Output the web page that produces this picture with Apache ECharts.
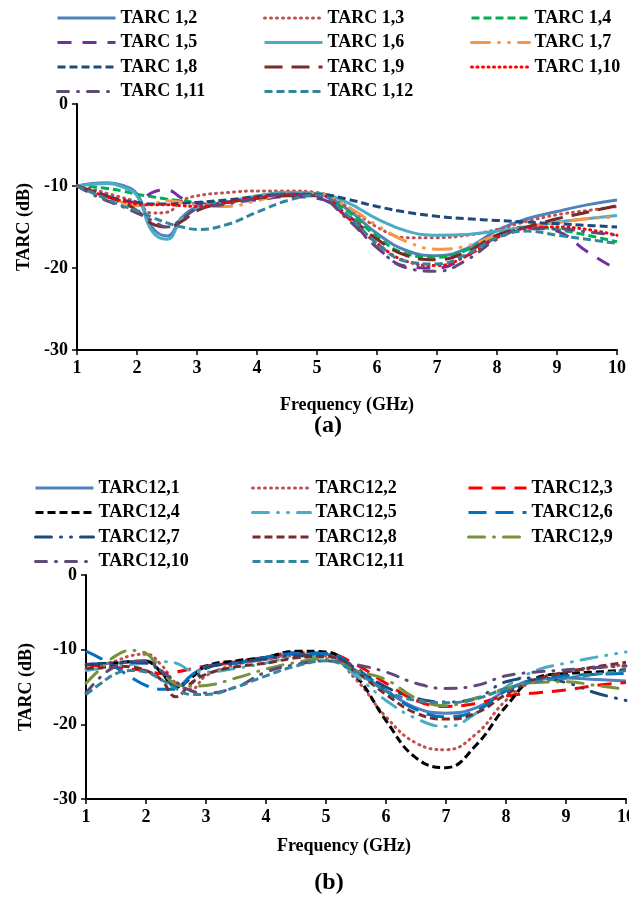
<!DOCTYPE html>
<html>
<head>
<meta charset="utf-8">
<script src="https://cdn.jsdelivr.net/npm/echarts@6/dist/echarts.min.js"></script>
<style>
html,body{margin:0;padding:0;background:#fff;}
#c{width:629px;height:898px;}
</style>
</head>
<body>
<div id="c"></div>
<script>
// ---- shared frequency samples (GHz) ----
const freqA = [1,1.25,1.5,1.75,2,2.25,2.5,2.75,3,3.5,4,4.5,5,5.5,6,6.5,7,7.5,8,8.5,9,9.5,10];
const freqB = [1,1.25,1.5,1.75,2,2.25,2.5,2.75,3,3.5,4,4.5,5,5.5,6,6.5,7,7.5,8,8.5,9,9.5,10];
const xTicks = [1,2,3,4,5,6,7,8,9,10];
const yTicks = [0,-10,-20,-30];

// ---- chart (a) names and values (dB) ----
const namesA = ['TARC 1,2','TARC 1,3','TARC 1,4','TARC 1,5','TARC 1,6','TARC 1,7','TARC 1,8','TARC 1,9','TARC 1,10','TARC 1,11','TARC 1,12'];
const tarc1_2  = [-10,-9.7,-9.6,-9.9,-11,-15,-16.1,-13.8,-12.6,-12,-11.3,-10.8,-11,-12.8,-15.8,-17.9,-18.5,-17.6,-15.4,-14,-13.1,-12.3,-11.7];
const tarc1_3  = [-10,-10.4,-10.9,-11.4,-12,-13.3,-13.2,-11.8,-11.2,-10.8,-10.6,-10.6,-10.8,-12.5,-15,-16.3,-16.3,-16,-15.3,-14.3,-13.5,-13,-12.5];
const tarc1_4  = [-10,-10.1,-10.3,-10.6,-11,-11.3,-11.6,-11.8,-12,-11.9,-11.5,-11.1,-11,-13,-16.2,-18.3,-18.7,-17.8,-16,-15,-15.3,-16,-16.8];
const tarc1_5  = [-10,-10.6,-11.2,-11.8,-12,-10.8,-10.5,-11.5,-12.2,-12,-11.7,-11.3,-11.5,-13.8,-17.5,-19.8,-20,-18.5,-16.2,-15,-15.5,-18,-20.2];
const tarc1_6  = [-10,-9.8,-9.7,-10.1,-11.2,-15.5,-16.5,-14,-12.8,-12,-11.2,-10.8,-10.9,-12,-14,-15.5,-16,-15.9,-15.5,-15,-14.4,-14,-13.6];
const tarc1_7  = [-10,-10.8,-11.5,-12,-12.4,-12.2,-11.8,-12,-12.3,-12.5,-11.8,-11,-11,-12.5,-14.8,-16.8,-17.7,-17.3,-16,-15,-14.5,-14,-13.8];
const tarc1_8  = [-10,-10.6,-11.2,-11.7,-12,-12.2,-12.2,-12.1,-12,-11.7,-11.3,-11,-11,-11.6,-12.5,-13.2,-13.7,-14,-14.2,-14.4,-14.6,-14.8,-15];
const tarc1_9  = [-10,-10.7,-11.3,-12,-13,-14.6,-15,-14.3,-13,-12,-11.5,-11.2,-11.2,-13.5,-16.5,-18.5,-19,-18,-16,-15,-14,-13.2,-12.4];
const tarc1_10 = [-10,-10.7,-11.3,-11.8,-12.2,-12.3,-12.3,-12.4,-12.5,-12,-11.4,-11,-11,-13.8,-17,-19.2,-19.7,-18.5,-16.3,-15.2,-15,-15.3,-16];
const tarc1_11 = [-10,-11,-11.8,-12.5,-13.3,-14.2,-15,-14,-12.8,-12.2,-11.5,-11,-11.3,-14,-17.5,-20,-20.4,-19,-16.5,-15.2,-15.2,-15.6,-16];
const tarc1_12 = [-10,-10.8,-11.6,-12.4,-13,-13.8,-14.5,-15,-15.3,-14.7,-13.2,-11.8,-11.1,-13.5,-17,-19.2,-19.5,-18.3,-16.3,-15.5,-16,-16.5,-17];

// ---- chart (b) names and values (dB) ----
const namesB = ['TARC12,1','TARC12,2','TARC12,3','TARC12,4','TARC12,5','TARC12,6','TARC12,7','TARC12,8','TARC12,9','TARC12,10','TARC12,11'];
const tarc12_1  = [-12,-11.9,-11.8,-11.6,-11.5,-13,-15,-13.5,-12.3,-11.8,-11.3,-10.6,-10.6,-12.8,-15.5,-17.8,-18.5,-17.8,-15.5,-14,-13.8,-14,-14.2];
const tarc12_2  = [-12.5,-12,-11.5,-10.8,-10.6,-12,-14.5,-15.3,-13.5,-12,-11.3,-10.8,-10.8,-14,-19,-22.5,-23.4,-21.3,-16.8,-14,-13,-12.5,-12];
const tarc12_3  = [-12,-12.2,-12.4,-12.6,-12.8,-13.2,-13,-12.6,-12.2,-11.6,-11,-10.4,-10.5,-12,-14.5,-16.8,-17.6,-17.2,-16.2,-15.8,-15.4,-14.8,-14.4];
const tarc12_4  = [-12,-11.9,-11.8,-11.6,-11.6,-13,-15,-13.8,-12.2,-11.5,-11,-10.2,-10.3,-13.5,-19.5,-24.5,-25.8,-22.8,-17.6,-13.8,-13.2,-13,-12.7];
const tarc12_5  = [-12.8,-12.5,-12.2,-12,-11.8,-11.6,-11.8,-12.8,-13,-12.5,-11.8,-11,-11,-13.5,-16.8,-19.2,-20.3,-18.5,-15,-12.8,-11.8,-11,-10.3];
const tarc12_6  = [-10.2,-11.2,-12.4,-13.7,-14.8,-15.3,-15.3,-13.5,-12.3,-11.8,-11,-10.5,-10.5,-12.5,-15.5,-18,-19,-18.2,-15.5,-14,-13.5,-13.3,-13.2];
const tarc12_7  = [-12,-11.9,-11.8,-11.7,-11.8,-13,-14.8,-14.5,-12.5,-11.8,-11.2,-10.8,-10.8,-12.5,-15,-16.5,-17,-16.5,-14.3,-13.8,-14.4,-15.8,-16.8];
const tarc12_8  = [-12.5,-12.4,-12.2,-12.3,-12.8,-14,-16.3,-14.5,-13.3,-12.3,-11.8,-11.1,-10.9,-13,-16,-18.5,-19.3,-18.5,-16,-14,-13,-12.3,-11.7];
const tarc12_9  = [-14.5,-12.5,-10.8,-10.1,-10.5,-12.8,-14.6,-14.9,-14.8,-13.8,-12.6,-11.7,-11.2,-12.8,-14,-16.5,-17.5,-16.5,-15.2,-14.4,-14.3,-14.8,-15.3];
const tarc12_10 = [-15.8,-13.6,-12.2,-11.6,-11.5,-12.8,-14.3,-15.5,-15.8,-15,-13,-12,-11.5,-12,-13,-14.5,-15.2,-14.8,-13.5,-13,-12.7,-12.4,-12.2];
const tarc12_11 = [-16,-14.5,-13.2,-12.8,-13,-14,-15.2,-16,-16,-15,-13.5,-12.2,-11.5,-13,-15.5,-16.8,-17.1,-16.6,-15.2,-14.3,-13.8,-13.3,-12.8];

const valuesA = [tarc1_2,tarc1_3,tarc1_4,tarc1_5,tarc1_6,tarc1_7,tarc1_8,tarc1_9,tarc1_10,tarc1_11,tarc1_12];
const valuesB = [tarc12_1,tarc12_2,tarc12_3,tarc12_4,tarc12_5,tarc12_6,tarc12_7,tarc12_8,tarc12_9,tarc12_10,tarc12_11];

// ---- styles (kept separate from data) ----
const stylesA = [
  {color:'#4F81BD', type:'solid'},
  {color:'#C0504D', type:[1,5], cap:'round'},
  {color:'#00B050', type:[8,4]},
  {color:'#7030A0', type:[14,11]},
  {color:'#4BACC6', type:'solid'},
  {color:'#F79646', type:[18,9,1,9,1,9], cap:'round'},
  {color:'#1F497D', type:[8,4]},
  {color:'#772C2A', type:[18,9]},
  {color:'#FF0000', type:[1,4.5], cap:'round'},
  {color:'#5F497A', type:[11,9,1,9], cap:'round'},
  {color:'#31859C', type:[8,4]}
];
const stylesB = [
  {color:'#4F81BD', type:'solid'},
  {color:'#C0504D', type:[1,5], cap:'round'},
  {color:'#FF0000', type:[14,9]},
  {color:'#000000', type:[8,4]},
  {color:'#4BACC6', type:[16,9,1,9,1,9], cap:'round'},
  {color:'#0070C0', type:[18,9]},
  {color:'#1F497D', type:[16,9,1,9,1,9], cap:'round'},
  {color:'#772C2A', type:[8,4]},
  {color:'#76923C', type:[16,9,1,9], cap:'round'},
  {color:'#5F497A', type:[11,9,1,9], cap:'round'},
  {color:'#31859C', type:[8,4]}
];

const FONT = 'Liberation Serif';

function makeSeries(names, values, freqs, styles, idx){
  return names.map((n,i)=>({
    name:n, type:'line', xAxisIndex:idx, yAxisIndex:idx,
    data: freqs.map((f,k)=>[f, values[i][k]]),
    smooth:0.45, symbol:'circle', symbolSize:0, showSymbol:false, animation:false,
    lineStyle:{color:styles[i].color, width:3, type:styles[i].type, cap:styles[i].cap||'butt'},
    itemStyle:{color:styles[i].color}
  }));
}

function legendCol(names, left, top){
  return {
    orient:'vertical', left:left, top:top, padding:0, itemWidth:58, itemHeight:14, itemGap:6.5,
    data:names, selectedMode:false,
    lineStyle:{width:3},
    itemStyle:{opacity:0, borderWidth:0},
    textStyle:{fontFamily:FONT, fontWeight:'bold', fontSize:18, color:'#000', lineHeight:18}
  };
}

function xAx(idx, nameGap, shift){
  return {
    type:'value', gridIndex:idx, min:1, max:10, interval:1,
    name:'Frequency (GHz)', nameLocation:'middle', nameGap:nameGap,
    nameTextStyle:{fontFamily:FONT, fontWeight:'bold', fontSize:18, color:'#000', padding:[0, shift, 0, 0]},
    axisLine:{show:true, onZero:false, lineStyle:{color:'#000', width:2}},
    axisTick:{show:true, length:5, lineStyle:{color:'#000', width:1.5}},
    axisLabel:{fontFamily:FONT, fontWeight:'bold', fontSize:18, color:'#000', margin:9,
      formatter:v=> xTicks.includes(v) ? String(v) : ''},
    splitLine:{show:false}
  };
}
function yAx(idx, nameGap){
  return {
    type:'value', gridIndex:idx, min:-30, max:0, interval:10,
    name:'TARC (dB)', nameLocation:'middle', nameGap:nameGap, nameRotate:90,
    nameTextStyle:{fontFamily:FONT, fontWeight:'bold', fontSize:18, color:'#000'},
    axisLine:{show:true, onZero:false, lineStyle:{color:'#000', width:2}},
    axisTick:{show:true, length:5, lineStyle:{color:'#000', width:1.5}},
    axisLabel:{fontFamily:FONT, fontWeight:'bold', fontSize:18, color:'#000', margin:9,
      formatter:v=> yTicks.includes(v) ? String(v) : ''},
    splitLine:{show:false}
  };
}

const chart = echarts.init(document.getElementById('c'), null, {renderer:'canvas'});
chart.setOption({
  backgroundColor:'#fff',
  animation:false,
  grid:[
    {left:77, top:104, width:540, height:246, outerBoundsMode:'none', containLabel:false},
    {left:86, top:575, width:540, height:224, outerBoundsMode:'none', containLabel:false}
  ],
  legend:[
    legendCol([namesA[0],namesA[3],namesA[6],namesA[9]], 56, 9),
    legendCol([namesA[1],namesA[4],namesA[7],namesA[10]], 263, 9),
    legendCol([namesA[2],namesA[5],namesA[8]], 470, 9),
    legendCol([namesB[0],namesB[3],namesB[6],namesB[9]], 34, 479),
    legendCol([namesB[1],namesB[4],namesB[7],namesB[10]], 251, 479),
    legendCol([namesB[2],namesB[5],namesB[8]], 467, 479)
  ],
  xAxis:[xAx(0, 46, 0), xAx(1, 38, 24)],
  yAxis:[yAx(0, 44), yAx(1, 51)],
  graphic:[
    {type:'text', x:328, y:426, style:{text:'(a)', font:'bold 24px "Liberation Serif"', fill:'#000', align:'center', verticalAlign:'middle'}},
    {type:'text', x:329, y:883, style:{text:'(b)', font:'bold 24px "Liberation Serif"', fill:'#000', align:'center', verticalAlign:'middle'}}
  ],
  series:[].concat(makeSeries(namesA, valuesA, freqA, stylesA, 0), makeSeries(namesB, valuesB, freqB, stylesB, 1))
});
</script>
</body>
</html>
